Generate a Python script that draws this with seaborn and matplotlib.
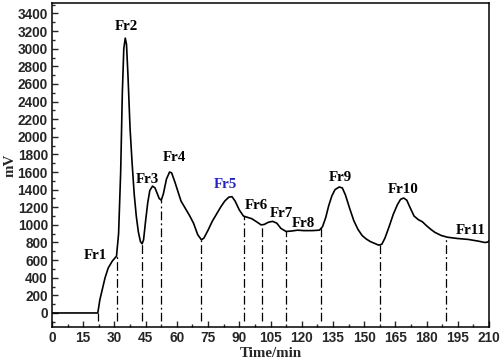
import numpy as np
import pandas as pd
import matplotlib
matplotlib.use('Agg')
import matplotlib.pyplot as plt
from matplotlib.ticker import MultipleLocator
import seaborn as sns

# chromatogram (time in min, signal in mV)
time = [0, 10, 22, 23, 24.5, 25.5, 27, 29, 31, 32, 33, 33.8, 34.5, 35.2, 35.8,
        36.5, 37.5, 38.5, 39.5, 40.5, 41.5, 42.5, 43.3, 44, 45, 46, 47, 48.3,
        49.5, 50.5, 51.5, 52.5, 53.5, 55, 56.5, 57.5, 59, 60.5, 62, 64, 66, 68,
        70, 71.8, 73, 75, 77, 79, 81, 83, 85, 86.5, 88, 90, 92, 94, 96, 98,
        100.5, 102, 104, 106, 108, 110, 112.5, 115, 118, 121, 125, 128.5, 130,
        131.5, 133, 134.5, 136, 138, 139.5, 141, 143, 145, 147, 149, 151, 153,
        155, 157, 158.5, 160, 162, 164, 166, 167.5, 169, 170.5, 172, 174, 176,
        178, 180, 182, 184, 187, 190, 195, 200, 205, 208, 209.5, 210]
mv = [0, 0, 0, 150, 300, 400, 510, 590, 645, 900, 1600, 2500, 3000, 3120, 3050,
      2700, 2100, 1700, 1350, 1100, 920, 810, 785, 830, 1050, 1250, 1390, 1440,
      1420, 1360, 1300, 1280, 1350, 1520, 1600, 1590, 1490, 1380, 1270, 1190,
      1110, 1020, 890, 830, 850, 940, 1040, 1120, 1200, 1270, 1315, 1320, 1270,
      1170, 1100, 1085, 1070, 1040, 1000, 1005, 1030, 1040, 1020, 960, 925, 930,
      940, 935, 935, 940, 980, 1080, 1220, 1330, 1400, 1430, 1420, 1340, 1190,
      1050, 950, 880, 840, 810, 790, 770, 780, 850, 980, 1120, 1230, 1290, 1305,
      1280, 1200, 1100, 1060, 1035, 990, 950, 915, 880, 860, 845, 835, 815, 800,
      805, 820]

# fraction cut points
cuts = [22, 31, 43.3, 52.5, 71.8, 92.2, 100.8, 112.6, 129.4, 157.5, 189.3]

frac_names = ['Fr1', 'Fr2', 'Fr3', 'Fr4', 'Fr5', 'Fr6', 'Fr7', 'Fr8', 'Fr9', 'Fr10', 'Fr11']
frac_x = [21, 35.6, 46, 59, 83.3, 98, 110, 121, 138.7, 169, 201]
frac_y = [650, 3250, 1520, 1760, 1455, 1220, 1130, 1020, 1535, 1400, 940]

df = pd.DataFrame({'time': time, 'mv': mv})

sns.set_style('ticks')
fig = plt.figure(figsize=(5, 3.61), dpi=100)
ax = fig.add_axes([0.104, 0.094, 0.874, 0.898])

sns.lineplot(data=df, x='time', y='mv', sort=False, color='black', lw=1.2, ax=ax)

tops = np.interp(cuts, time, mv)
for c, t in zip(cuts, tops):
    ax.plot([c, c], [-90, t], color='black', lw=0.9,
            linestyle=(0, (7, 2.5, 1.5, 2.5)))

for name, x, y in zip(frac_names, frac_x, frac_y):
    col = '#2222cc' if name == 'Fr5' else 'black'
    ax.text(x, y, name, ha='center', va='center', color=col,
            fontsize=10.8, fontweight='bold', family='Liberation Serif')

ax.set_xlim(0, 210)
ax.set_ylim(-160, 3520)
ax.xaxis.set_major_locator(MultipleLocator(15))
ax.xaxis.set_minor_locator(MultipleLocator(7.5))
ax.yaxis.set_major_locator(MultipleLocator(200))
ax.yaxis.set_minor_locator(MultipleLocator(100))
ax.tick_params(which='both', direction='in', width=1)
ax.tick_params(which='major', length=4, pad=3)
ax.tick_params(which='minor', length=2)
for lab in ax.get_xticklabels() + ax.get_yticklabels():
    lab.set_family('Liberation Sans')
    lab.set_fontweight('bold')
    lab.set_fontsize(9.8)
for s in ax.spines.values():
    s.set_linewidth(1.1)
    s.set_color('black')

ax.set_xlabel('Time/min', fontsize=10.8, fontweight='bold', family='Liberation Serif', labelpad=1)
ax.set_ylabel('mV', fontsize=10.8, fontweight='bold', family='Liberation Serif', labelpad=1)

fig.savefig('out.png', dpi=100)
